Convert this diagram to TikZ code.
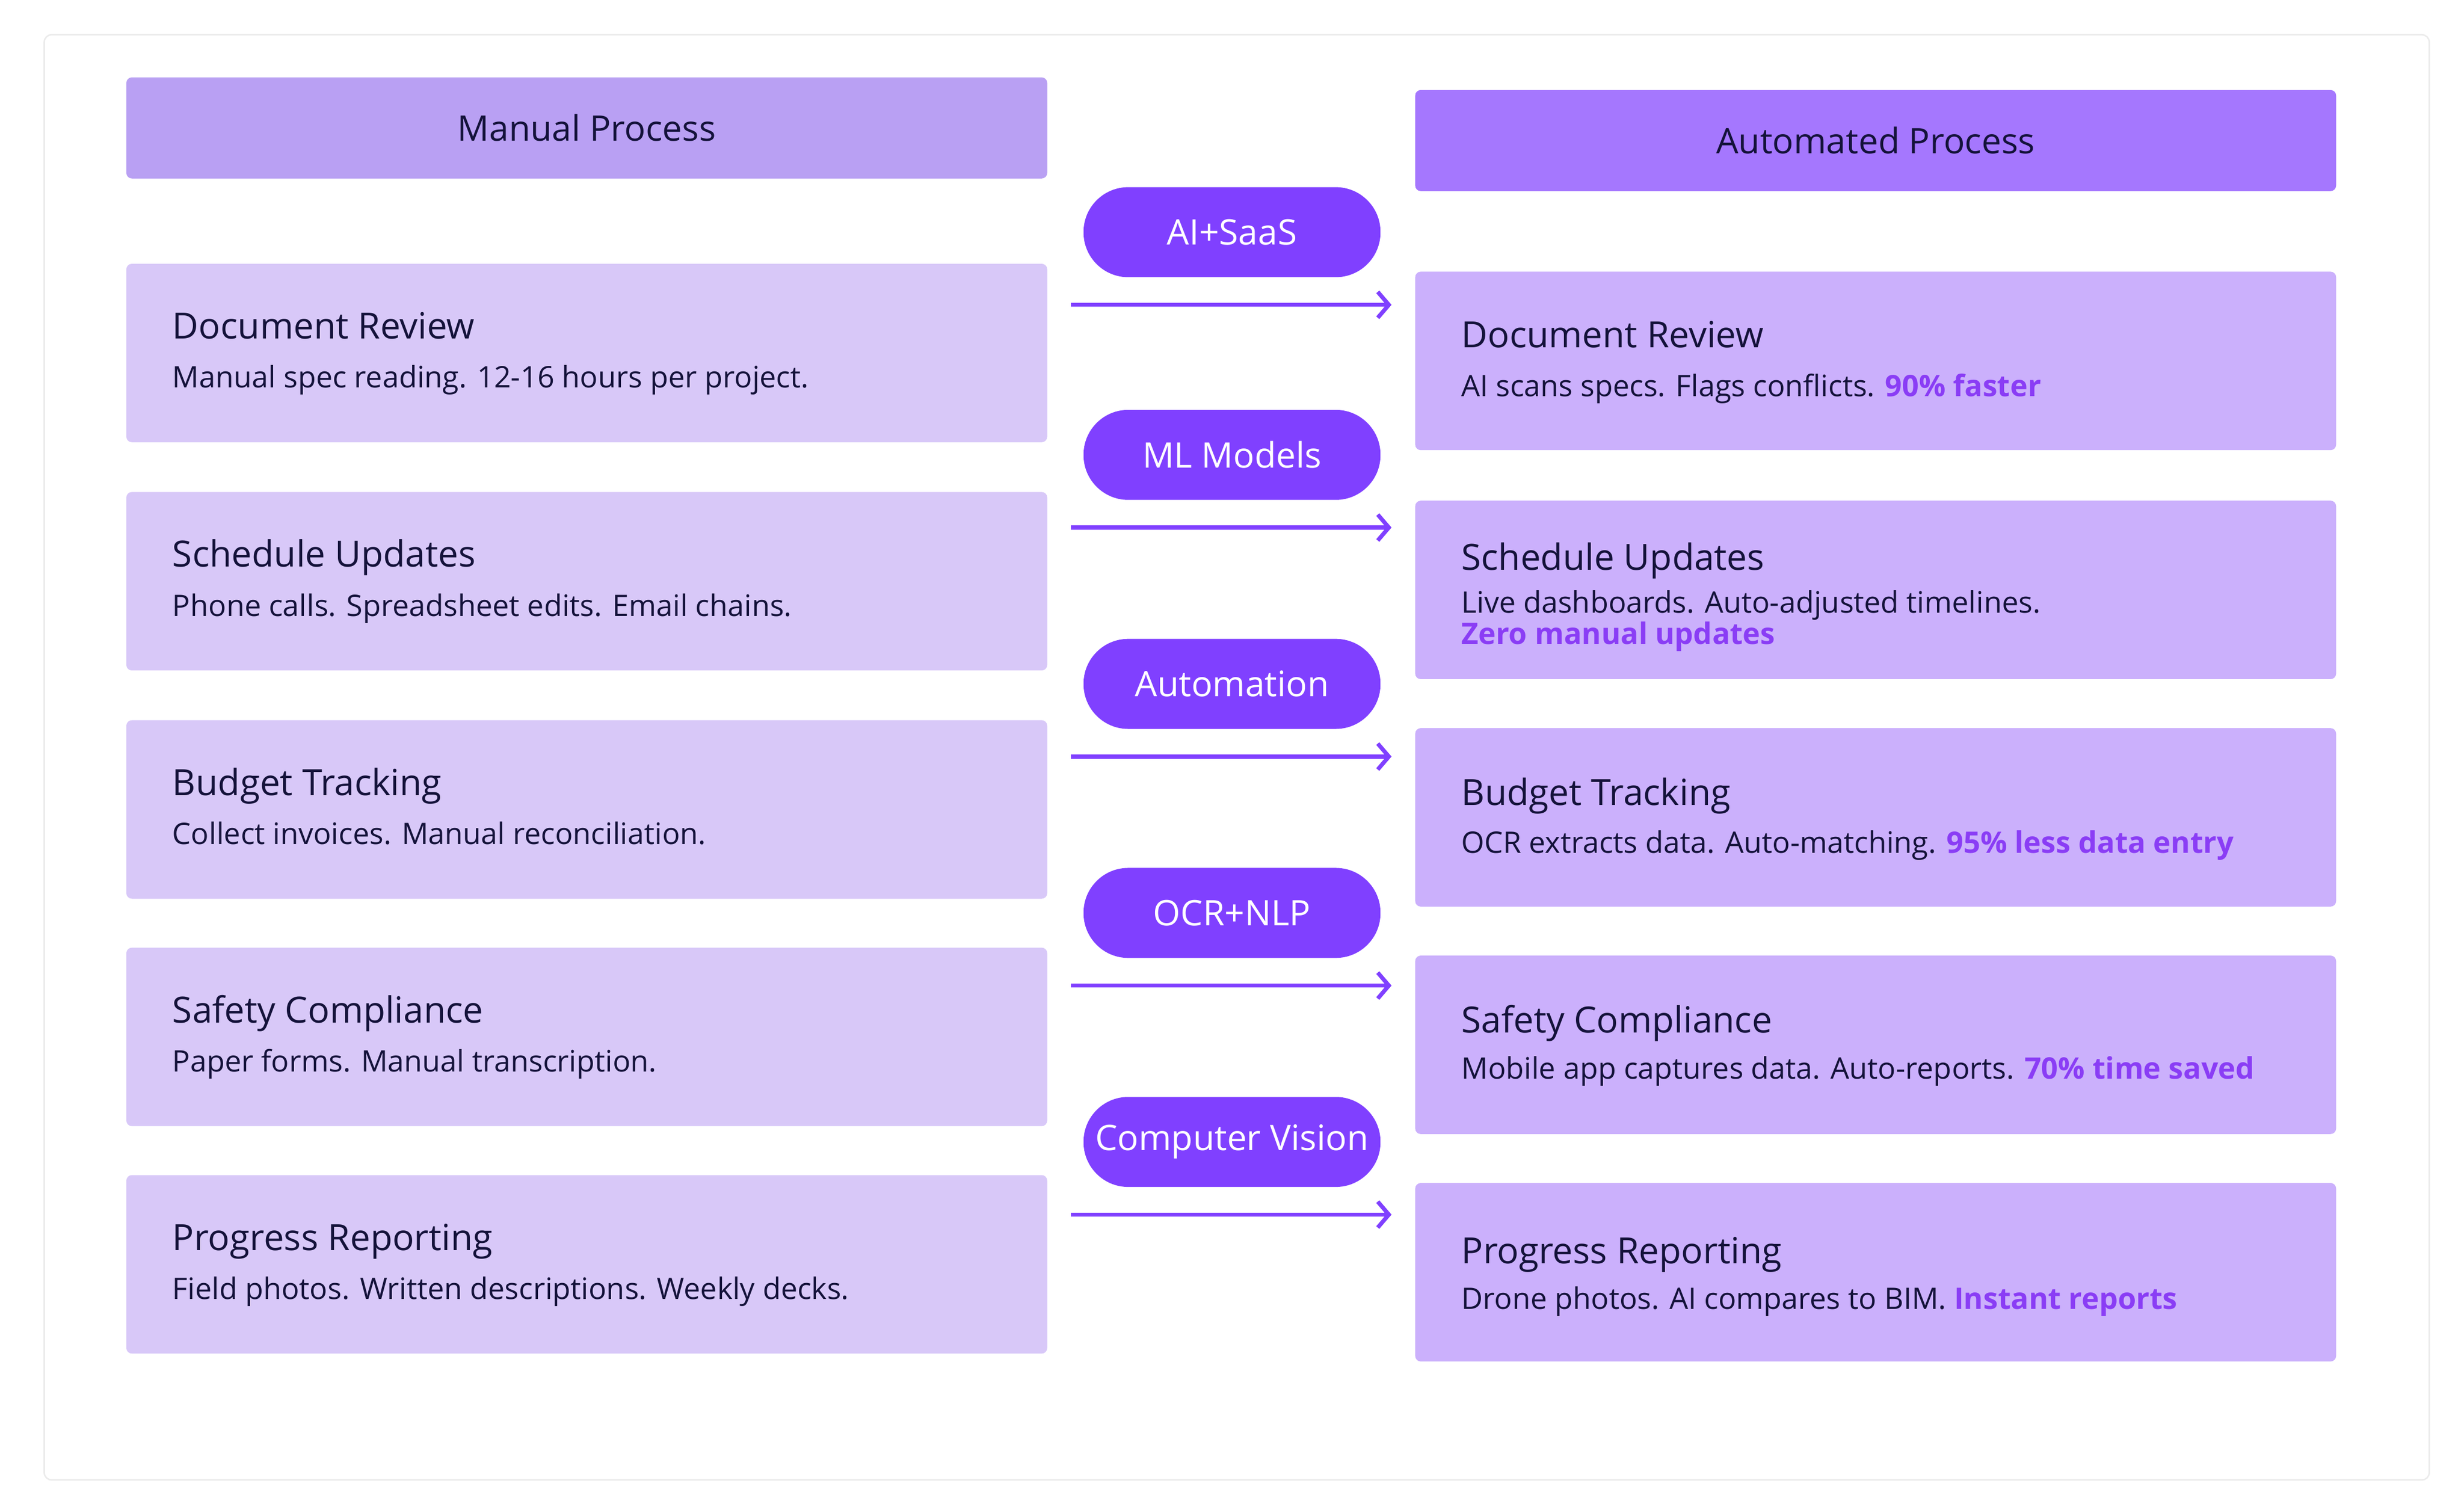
\documentclass[tikz,border=0pt]{standalone}
\usepackage{fontspec}
\setmainfont{Open Sans}
\usetikzlibrary{positioning,arrows.meta}
\definecolor{manualhead}{HTML}{B9A0F3}
\definecolor{autohead}{HTML}{A577FE}
\definecolor{manualbox}{HTML}{D8C8F8}
\definecolor{autobox}{HTML}{CBB0FC}
\definecolor{pillfill}{HTML}{8040FF}
\definecolor{inkdark}{HTML}{14123A}
\definecolor{accent}{HTML}{8A3DF5}
\tikzset{
  headbox/.style={rounded corners=3pt, minimum width=17.49cm, minimum height=1.92cm, inner sep=0pt, font=\fontsize{19}{22}\selectfont, text=inkdark},
  stagebox/.style={rounded corners=3pt, minimum width=17.49cm, minimum height=3.39cm, inner sep=0pt},
  pill/.style={rounded corners=0.85cm, fill=pillfill, minimum width=5.64cm, minimum height=1.71cm, inner sep=0pt, text=white, font=\fontsize{19}{22}\selectfont},
  boxtitle/.style={anchor=base west, inner sep=0pt, text=inkdark, font=\fontsize{19.5}{22}\selectfont},
  boxtext/.style={anchor=base west, inner sep=0pt, text=inkdark, font=\fontsize{16}{19}\selectfont},
  flow/.style={pillfill, line width=2.2pt, -{Straight Barb[length=6pt,width=14pt,line width=2.2pt]}}
}
\begin{document}
\begin{tikzpicture}[x=0.03cm,y=-0.03cm]
\useasboundingbox (0,0) rectangle (1560,956);
\draw[black!8, line width=0.8pt, rounded corners=4pt] (28,22) rectangle (1538,937);

\node[headbox, fill=manualhead] (mhead) at (371.5,81) {Manual Process};
\node[headbox, fill=autohead] (ahead) at (1187.5,89) {Automated Process};

% left column
\foreach \name/\y/\ttl/\txt in {
  mdoc/223.5/Document Review/Manual spec reading. 12-16 hours per project.,
  msched/368/Schedule Updates/Phone calls. Spreadsheet edits. Email chains.,
  mbudget/512.5/Budget Tracking/Collect invoices. Manual reconciliation.,
  msafe/656.5/Safety Compliance/Paper forms. Manual transcription.,
  mprog/800.5/Progress Reporting/Field photos. Written descriptions. Weekly decks.}{
  \node[stagebox, fill=manualbox] (\name) at (371.5,\y) {};
  \node[boxtitle] (\name-t) at (109,\y-9) {\ttl};
  \node[boxtext] (\name-d) at (109,\y+22) {\txt};
}

% right column
\node[stagebox, fill=autobox] (adoc) at (1187.5,228.5) {};
\node[boxtitle] (adoc-t) at (925,220) {Document Review};
\node[boxtext] (adoc-d) at (925,251) {AI scans specs. Flags conflicts. \textcolor{accent}{\textbf{90\% faster}}};
\node[stagebox, fill=autobox] (asched) at (1187.5,373.5) {};
\node[boxtitle] (asched-t) at (925,361) {Schedule Updates};
\node[boxtext] (asched-d) at (925,388) {Live dashboards. Auto-adjusted timelines.};
\node[boxtext] (asched-e) at (925,408) {\textcolor{accent}{\textbf{Zero manual updates}}};
\node[stagebox, fill=autobox] (abudget) at (1187.5,517.5) {};
\node[boxtitle] (abudget-t) at (925,510) {Budget Tracking};
\node[boxtext] (abudget-d) at (925,540) {OCR extracts data. Auto-matching. \textcolor{accent}{\textbf{95\% less data entry}}};
\node[stagebox, fill=autobox] (asafe) at (1187.5,661.5) {};
\node[boxtitle] (asafe-t) at (925,654) {Safety Compliance};
\node[boxtext] (asafe-d) at (925,683) {Mobile app captures data. Auto-reports. \textcolor{accent}{\textbf{70\% time saved}}};
\node[stagebox, fill=autobox] (aprog) at (1187.5,805.5) {};
\node[boxtitle] (aprog-t) at (925,800) {Progress Reporting};
\node[boxtext] (aprog-d) at (925,829) {Drone photos. AI compares to BIM. \textcolor{accent}{\textbf{Instant reports}}};

% methods and arrows
\foreach \name/\y/\lbl/\src/\dst in {
  pai/147/AI+SaaS/mdoc/adoc,
  pml/288/ML Models/msched/asched,
  pauto/433/Automation/mbudget/abudget,
  pocr/578/OCR+NLP/msafe/asafe,
  pcv/723/Computer Vision/mprog/aprog}{
  \node[pill] (\name) at (780,\y) {\lbl};
  \coordinate (\name-a) at (678,\y+46);
  \coordinate (\name-b) at (881,\y+46);
  \draw[flow] (\name-a) -- (\name-b);
}
\end{tikzpicture}
\end{document}
